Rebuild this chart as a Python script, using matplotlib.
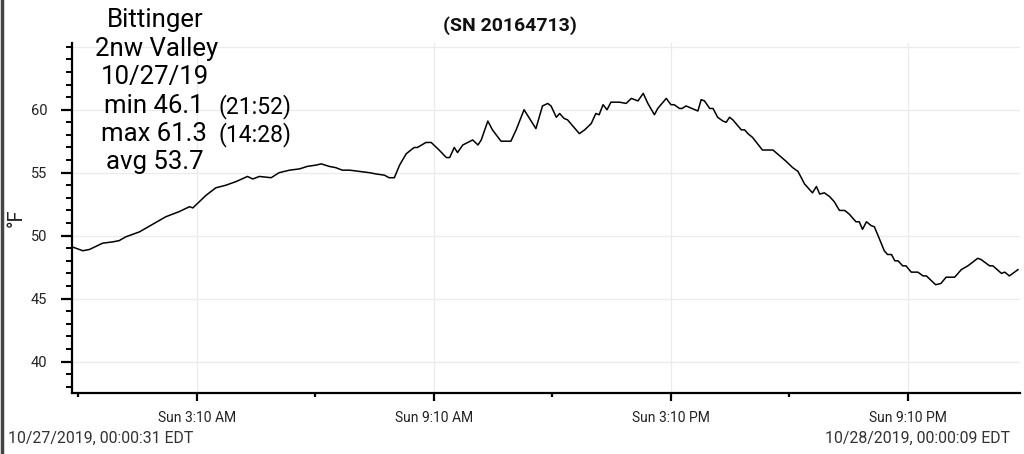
import matplotlib
matplotlib.use("Agg")
import matplotlib.pyplot as plt
import matplotlib.dates as mdates
from matplotlib.lines import Line2D
import pandas as pd

plt.rcParams['font.family'] = ['Roboto', 'DejaVu Sans']

# Logger readings, 10/27/2019 (time of day, deg F)
times = ["00:01", "00:17", "00:27", "00:47", "01:02", "01:12", "01:22", "01:43", "02:03", "02:23",
         "02:43", "02:59", "03:04", "03:14", "03:24", "03:39", "03:54", "04:10", "04:27", "04:35",
         "04:45", "05:03", "05:15", "05:31", "05:46", "05:58", "06:11", "06:19", "06:31", "06:41",
         "06:51", "07:02", "07:17", "07:32", "07:42", "07:55", "08:02", "08:10", "08:18", "08:28",
         "08:40", "08:45", "08:58", "09:06", "09:18", "09:29", "09:34", "09:41", "09:46", "09:54",
         "10:09", "10:17", "10:22", "10:32", "10:39", "10:52", "11:07", "11:15", "11:27", "11:45",
         "11:55", "12:03", "12:08", "12:16", "12:21", "12:28", "12:33", "12:51", "12:59", "13:09",
         "13:16", "13:21", "13:27", "13:33", "13:39", "13:52", "14:02", "14:10", "14:20", "14:28",
         "14:35", "14:45", "14:50", "15:03", "15:10", "15:15", "15:23", "15:27", "15:33", "15:51",
         "15:56", "16:01", "16:09", "16:14", "16:21", "16:29", "16:34", "16:39", "16:44", "16:57",
         "17:02", "17:07", "17:14", "17:29", "17:35", "17:45", "18:05", "18:15", "18:23", "18:33",
         "18:45", "18:51", "18:56", "19:03", "19:11", "19:18", "19:26", "19:34", "19:41", "19:51",
         "19:56", "20:01", "20:07", "20:14", "20:19", "20:27", "20:34", "20:39", "20:45", "20:50",
         "20:55", "21:02", "21:07", "21:15", "21:25", "21:33", "21:38", "21:52", "22:00", "22:08",
         "22:21", "22:31", "22:41", "22:56", "23:01", "23:14", "23:19", "23:32", "23:37", "23:44",
         "23:57"]
temps = [49.1, 48.8, 48.9, 49.4, 49.5, 49.6, 49.9, 50.3, 50.9, 51.5,
         51.9, 52.3, 52.2, 52.7, 53.2, 53.8, 54.0, 54.3, 54.7, 54.5,
         54.7, 54.6, 55.0, 55.2, 55.3, 55.5, 55.6, 55.7, 55.5, 55.4,
         55.2, 55.2, 55.1, 55.0, 54.9, 54.8, 54.6, 54.6, 55.6, 56.5,
         57.0, 57.0, 57.4, 57.4, 56.8, 56.2, 56.2, 57.0, 56.6, 57.2,
         57.6, 57.2, 57.6, 59.1, 58.4, 57.5, 57.5, 58.4, 60.0, 58.5,
         60.3, 60.5, 60.3, 59.4, 59.7, 59.3, 59.2, 58.1, 58.4, 58.9,
         59.7, 59.6, 60.4, 60.0, 60.6, 60.6, 60.5, 60.9, 60.7, 61.3,
         60.5, 59.6, 60.1, 60.9, 60.4, 60.4, 60.1, 60.1, 60.3, 59.9,
         60.8, 60.7, 60.1, 60.1, 59.4, 59.1, 59.0, 59.4, 59.2, 58.4,
         58.4, 58.1, 57.8, 56.8, 56.8, 56.8, 55.9, 55.4, 55.1, 54.1,
         53.4, 53.9, 53.3, 53.4, 53.1, 52.7, 52.0, 52.0, 51.7, 51.1,
         51.1, 50.5, 51.1, 50.8, 50.7, 49.7, 48.8, 48.5, 48.5, 48.0,
         48.0, 47.6, 47.6, 47.1, 47.1, 46.8, 46.8, 46.1, 46.2, 46.7,
         46.7, 47.3, 47.6, 48.2, 48.1, 47.6, 47.6, 47.0, 47.1, 46.8,
         47.3]

major_times = ["03:10", "09:10", "15:10", "21:10"]
major_labels = ["Sun 3:10 AM", "Sun 9:10 AM", "Sun 3:10 PM", "Sun 9:10 PM"]
minor_times = ["00:10", "06:10", "12:10", "18:10"]
y_major = [40, 45, 50, 55, 60]

day = "2019-10-27 "
t = pd.to_datetime([day + s for s in times])
t_major = pd.to_datetime([day + s for s in major_times])
t_minor = pd.to_datetime([day + s for s in minor_times])

fig = plt.figure(figsize=(10.24, 4.54), dpi=100)
ax = fig.add_axes([72 / 1024, 61 / 454, 948 / 1024, 350 / 454])

ax.plot(t, temps, color="black", lw=1.1)

ax.set_xlim(pd.Timestamp("2019-10-27 00:00:31"), pd.Timestamp("2019-10-28 00:00:09"))
ax.set_ylim(37.5, 65.3)

ax.set_xticks(mdates.date2num(t_major))
ax.set_xticklabels(major_labels)
ax.set_xticks(mdates.date2num(t_minor), minor=True)
ax.set_yticks(y_major)
ax.set_yticks(range(38, 66), minor=True)

for s in ["top", "right"]:
    ax.spines[s].set_visible(False)
for s in ["left", "bottom"]:
    ax.spines[s].set_linewidth(1.6)

ax.tick_params(axis="x", which="major", length=6, width=1.6, pad=7, labelsize=10, labelcolor="#222222")
ax.tick_params(axis="x", which="minor", length=3, width=1.6)
ax.tick_params(axis="y", which="major", length=8, width=1.6, pad=10, labelsize=10.5, labelcolor="#222222")
ax.tick_params(axis="y", which="minor", length=4, width=1.4)

ax.grid(True, which="major", color="#ebebeb", lw=0.9)
ax.axhline(65, color="#ebebeb", lw=0.9, zorder=0)
ax.set_axisbelow(True)


def px(x, y):
    return x / 1024, 1 - y / 454


# y axis unit
fig.text(*px(16, 218), "°F", rotation=90, ha="center", va="center", fontsize=14.5, color="#222222")

# title
fig.text(*px(510, 31), "(SN 20164713)", ha="center", va="baseline", fontsize=14,
         fontweight="bold", color="#111111")

# summary block
fig.text(*px(155, 27), "Bittinger", ha="center", va="baseline", fontsize=18.5)
fig.text(*px(157, 56), "2nw Valley", ha="center", va="baseline", fontsize=18.5)
fig.text(*px(155, 84), "10/27/19", ha="center", va="baseline", fontsize=18.5)
fig.text(*px(104, 113), "min 46.1", ha="left", va="baseline", fontsize=18.5)
fig.text(*px(218, 113), "(21:52)", ha="left", va="baseline", fontsize=16.5)
fig.text(*px(101, 141), "max 61.3", ha="left", va="baseline", fontsize=18.5)
fig.text(*px(218, 141), "(14:28)", ha="left", va="baseline", fontsize=16.5)
fig.text(*px(155, 169), "avg 53.7", ha="center", va="baseline", fontsize=18.5)

# start / end stamps
fig.text(*px(8, 443), "10/27/2019, 00:00:31 EDT", ha="left", va="baseline", fontsize=11.4, color="#333333")
fig.text(*px(1010, 443), "10/28/2019, 00:00:09 EDT", ha="right", va="baseline", fontsize=11.4, color="#333333")

# screenshot edge
fig.add_artist(Line2D([0.0015, 0.0015], [0, 1], color="#444444", lw=2.5, transform=fig.transFigure))

fig.savefig("out.png", dpi=100, facecolor="white")
